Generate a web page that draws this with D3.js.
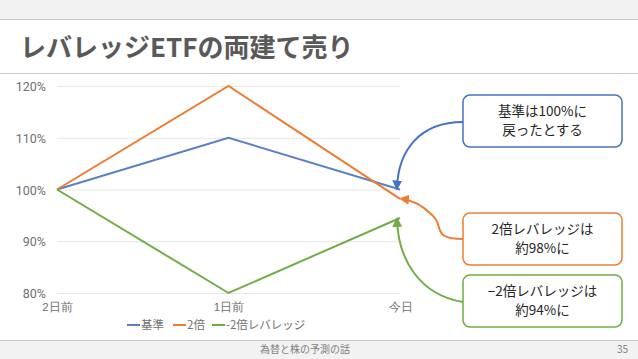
<!DOCTYPE html>
<html>
<head>
<meta charset="utf-8">
<script src="https://cdn.jsdelivr.net/npm/d3@7"></script>
<style>
  body { margin: 0; background: #fff; }
  svg { display: block; font-family: "Noto Sans CJK JP", "Noto Sans", sans-serif; }
</style>
</head>
<body>
<div id="chart"></div>
<script>
const days = ['2日前', '1日前', '今日']
const seriesNames = ['基準', '2倍', '-2倍レバレッジ']
const baseValues = [100, 110, 100]
const doubleValues = [100, 120, 98.2]
const inverseValues = [100, 80, 94.5]
const yTicks = [80, 90, 100, 110, 120]
const callouts = [
  { lines: ['基準は100%に', '戻ったとする'], series: 0 },
  { lines: ['2倍レバレッジは', '約98%に'], series: 1 },
  { lines: ['−2倍レバレッジは', '約94%に'], series: 2 }
]

const W = 638
const H = 359
const colors = ['#5b80c4', '#ed7d31', '#70ad47']
const arrowColors = ['#4472c4', '#ed7d31', '#70ad47']
const margin = { top: 86, right: 238, bottom: 66, left: 57 }
const width = W - margin.left - margin.right
const height = H - margin.top - margin.bottom

const svg = d3.select('#chart').append('svg').attr('width', W).attr('height', H)

// slide chrome
svg.append('rect').attr('width', W).attr('height', 19).attr('fill', '#f2f2f2')
svg.append('line').attr('x1', 0).attr('x2', W).attr('y1', 19.5).attr('y2', 19.5).attr('stroke', '#c8c8c8')
svg.append('text').attr('x', 20).attr('y', 57)
  .attr('font-size', 26).attr('font-weight', 'bold').attr('fill', '#595959')
  .text('レバレッジETFの両建て売り')
svg.append('line').attr('x1', 0).attr('x2', W).attr('y1', 73.5).attr('y2', 73.5).attr('stroke', '#c8c8c8')
svg.append('rect').attr('y', 340).attr('width', W).attr('height', 19).attr('fill', '#f2f2f2')
svg.append('line').attr('x1', 0).attr('x2', W).attr('y1', 340.5).attr('y2', 340.5).attr('stroke', '#c8c8c8')
svg.append('text').attr('x', 305).attr('y', 353).attr('text-anchor', 'middle')
  .attr('font-size', 10).attr('fill', '#7f7f7f').text('為替と株の予測の話')
svg.append('text').attr('x', 628).attr('y', 353).attr('text-anchor', 'end')
  .attr('font-size', 10).attr('fill', '#7f7f7f').text('35')

const x = d3.scalePoint().domain(days).range([0, width])
const y = d3.scaleLinear().domain([80, 120]).range([height, 0])

const g = svg.append('g').attr('transform', 'translate(' + margin.left + ',' + margin.top + ')')

const axisY = d3.axisLeft(y).tickValues(yTicks).tickSize(-width).tickFormat(d => d + '%')
g.append('g').call(axisY)
  .call(s => s.select('.domain').remove())
  .call(s => s.selectAll('.tick line').attr('stroke', '#e6e6e6'))
  .call(s => s.selectAll('.tick text').attr('x', -11).attr('dy', '0.36em')
    .attr('fill', '#707070').attr('font-size', 12.5).attr('font-family', 'Roboto, sans-serif'))

const axisX = d3.axisBottom(x).tickSize(0)
g.append('g').attr('transform', 'translate(0,' + height + ')').call(axisX)
  .call(s => s.select('.domain').remove())
  .call(s => s.selectAll('.tick text').attr('y', 10).attr('dy', '0.71em')
    .attr('fill', '#707070').attr('font-size', 11.5))

const series = [baseValues, doubleValues, inverseValues]
const line = d3.line().x((d, i) => x(days[i])).y(d => y(d))

g.selectAll('.series').data(series).enter().append('path')
  .attr('class', 'series')
  .attr('d', line)
  .attr('fill', 'none')
  .attr('stroke', (d, i) => colors[i])
  .attr('stroke-width', 2)

// legend
const legendX = [127, 173, 212]
const legend = svg.append('g').selectAll('g').data(seriesNames).enter().append('g')
  .attr('transform', (d, i) => 'translate(' + legendX[i] + ',325)')
legend.append('line').attr('x1', 0).attr('x2', 13).attr('stroke', (d, i) => colors[i]).attr('stroke-width', 2)
legend.append('text').attr('x', 14).attr('dy', '0.35em').attr('font-size', 11.5).attr('fill', '#707070').text(d => d)

// callouts
const defs = svg.append('defs')
arrowColors.forEach((c, i) => {
  defs.append('marker').attr('id', 'arr' + i).attr('viewBox', '0 0 10 10')
    .attr('refX', 8).attr('refY', 5).attr('markerWidth', 5).attr('markerHeight', 5)
    .attr('orient', 'auto-start-reverse').attr('markerUnits', 'strokeWidth')
    .append('path').attr('d', 'M0,0L10,5L0,10z').attr('fill', c)
})

const boxTop = [95, 213, 275]
const boxX = 463
const boxW = 159
const boxH = 52
callouts.forEach((c, i) => {
  const box = svg.append('g')
  box.append('rect').attr('x', boxX).attr('y', boxTop[i]).attr('width', boxW).attr('height', boxH)
    .attr('rx', 7).attr('fill', '#fff').attr('stroke', arrowColors[i]).attr('stroke-width', 1.5)
  box.selectAll('text').data(c.lines).enter().append('text')
    .attr('x', boxX + boxW / 2).attr('y', (d, j) => boxTop[i] + 21 + j * 19)
    .attr('text-anchor', 'middle').attr('font-size', 13.5).attr('fill', '#262626').text(d => d)
})

const endX = margin.left + x(days[2])
const tip = series.map(s => margin.top + y(s[2]))
const arrows = [
  d3.path(), d3.path(), d3.path()
]
arrows[0].moveTo(boxX, 122)
arrows[0].bezierCurveTo(420, 122, 398, 150, endX - 3, tip[0] - 1)
arrows[1].moveTo(boxX, 239)
arrows[1].bezierCurveTo(430, 239, 445, 225, 432, 215)
arrows[1].bezierCurveTo(422, 205, 412, 200, endX + 1, tip[1])
arrows[2].moveTo(boxX, 302)
arrows[2].bezierCurveTo(420, 295, 398, 260, endX - 3, tip[2] + 1)
arrows.forEach((p, i) => {
  svg.append('path').attr('d', p.toString()).attr('fill', 'none')
    .attr('stroke', arrowColors[i]).attr('stroke-width', 2)
    .attr('marker-end', 'url(#arr' + i + ')')
})
</script>
</body>
</html>
